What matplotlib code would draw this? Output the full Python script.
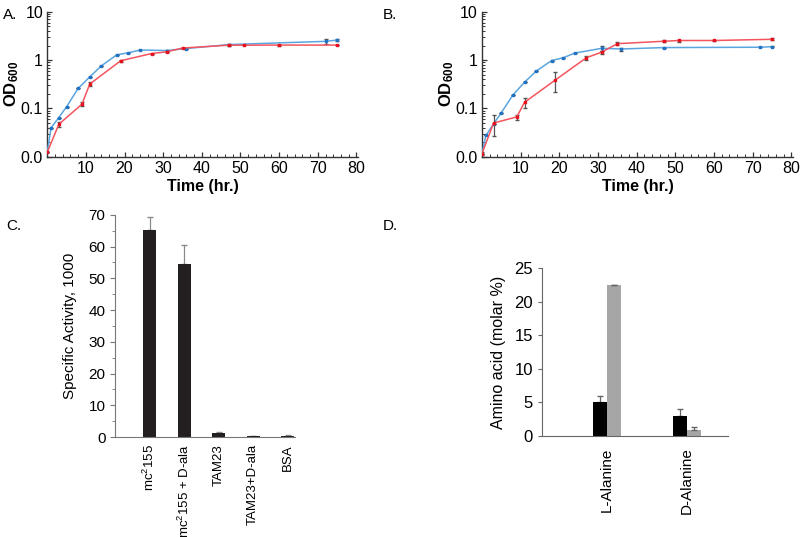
import matplotlib
matplotlib.use("Agg")
import matplotlib.pyplot as plt
from matplotlib.ticker import FixedLocator, FixedFormatter, MultipleLocator, LogLocator, NullFormatter

plt.rcParams['font.family'] = ['Liberation Sans', 'DejaVu Sans']
plt.rcParams['mathtext.fontset'] = 'custom'
plt.rcParams['mathtext.rm'] = 'Liberation Sans'
plt.rcParams['mathtext.bf'] = 'Liberation Sans:bold'
plt.rcParams['mathtext.it'] = 'Liberation Sans:italic'

# ---- Panel A data ----
a_blue_t = [0, 1, 3, 5, 8, 11, 14, 18, 21, 24, 31, 36, 47, 72, 75]
a_blue_y = [0.0123, 0.04, 0.065, 0.108, 0.26, 0.45, 0.76, 1.29, 1.42, 1.62, 1.58, 1.74, 2.1, 2.45, 2.6]
a_blue_e = [0, 0, 0, 0, 0, 0, 0, 0, 0, 0, 0.08, 0, 0, 0.25, 0.15]
a_red_t = [0, 3, 9, 11, 19, 27, 31, 35, 47, 51, 60, 75]
a_red_y = [0.0123, 0.047, 0.123, 0.32, 0.97, 1.37, 1.49, 1.78, 2.04, 2.04, 2.05, 2.05]
a_red_e = [0, 0.005, 0.012, 0.03, 0.06, 0, 0.05, 0, 0.08, 0, 0.05, 0]

# ---- Panel B data ----
b_blue_t = [0, 1, 3, 5, 8, 11, 14, 18, 21, 24, 31, 36, 47, 72, 75]
b_blue_y = [0.0117, 0.0276, 0.048, 0.082, 0.19, 0.35, 0.59, 0.98, 1.12, 1.4, 1.76, 1.7, 1.82, 1.85, 1.9]
b_blue_e = [0, 0, 0, 0, 0, 0, 0, 0, 0, 0, 0.2, 0.12, 0, 0, 0.05]
b_red_t = [0, 3, 9, 11, 19, 27, 31, 35, 47, 51, 60, 75]
b_red_y = [0.0117, 0.05, 0.067, 0.134, 0.39, 1.12, 1.47, 2.19, 2.46, 2.55, 2.55, 2.7]
b_red_e = [0.001, 0.023, 0.008, 0.03, 0.17, 0.12, 0.1, 0.15, 0.1, 0.12, 0.05, 0.12]

# ---- Panel C data ----
c_labels = ['mc$^2$155', 'mc$^2$155 + D-ala', 'TAM23', 'TAM23+D-ala', 'BSA']
c_values = [65.2, 54.6, 1.3, 0.4, 0.5]
c_errors = [4.1, 5.8, 0.3, 0.1, 0.1]

# ---- Panel D data ----
d_labels = ['L-Alanine', 'D-Alanine']
d_black = [5.0, 3.0]
d_black_err = [1.0, 1.0]
d_gray = [22.4, 0.9]
d_gray_err = [0.1, 0.5]

log_ticks = [0.01, 0.1, 1, 10]
log_tick_labels = ['0.0', '0.1', '1', '10']
time_ticks = [10, 20, 30, 40, 50, 60, 70, 80]

BLUE_LINE = '#5aa5e0'
BLUE_MK = '#1f72c4'
RED_LINE = '#f4545e'
RED_MK = '#e8101c'
ERR = '#555555'

fig = plt.figure(figsize=(8.0, 5.37), dpi=100)


def growth(ax, bt, by, be, rt, ry, re):
    ax.errorbar(bt, by, yerr=be, color=BLUE_LINE, lw=1.1, marker='s', ms=2.0,
                mfc=BLUE_MK, mec=BLUE_MK, ecolor=ERR, elinewidth=0.9, capsize=1.6, zorder=3)
    ax.errorbar(rt, ry, yerr=re, color=RED_LINE, lw=1.1, marker='s', ms=2.0,
                mfc=RED_MK, mec=RED_MK, ecolor=ERR, elinewidth=0.9, capsize=1.6, zorder=4)
    ax.set_yscale('log')
    ax.set_ylim(0.01, 10)
    ax.set_xlim(0, 80.5)
    ax.yaxis.set_major_locator(FixedLocator(log_ticks))
    ax.yaxis.set_major_formatter(FixedFormatter(log_tick_labels))
    ax.yaxis.set_minor_locator(LogLocator(base=10, subs=range(2, 10)))
    ax.yaxis.set_minor_formatter(NullFormatter())
    ax.xaxis.set_major_locator(FixedLocator(time_ticks))
    ax.xaxis.set_minor_locator(MultipleLocator(2))
    for s in ['top', 'right']:
        ax.spines[s].set_visible(False)
    for s in ['left', 'bottom']:
        ax.spines[s].set_color('#333333')
        ax.spines[s].set_linewidth(1.0)
    ax.tick_params(which='both', direction='in', color='#333333', labelsize=11.5, pad=3)
    ax.tick_params(which='major', length=3.5, width=0.9)
    ax.tick_params(which='minor', length=2, width=0.7)
    ax.set_xlabel('Time (hr.)', fontsize=11.5, fontweight='bold', labelpad=2)
    ax.set_ylabel(r'$\mathbf{OD_{600}}$', fontsize=12)
    ax.yaxis.set_label_coords(-0.085, 0.5)


axA = fig.add_axes([0.059, 0.708, 0.389, 0.27])
growth(axA, a_blue_t, a_blue_y, a_blue_e, a_red_t, a_red_y, a_red_e)
axB = fig.add_axes([0.6025, 0.708, 0.389, 0.27])
growth(axB, b_blue_t, b_blue_y, b_blue_e, b_red_t, b_red_y, b_red_e)

# ---- Panel C ----
axC = fig.add_axes([0.144, 0.186, 0.225, 0.414])
xc = list(range(1, len(c_values) + 1))
axC.bar(xc, c_values, width=0.38, color='#231f20', zorder=2)
axC.errorbar(xc, c_values, yerr=[[0] * len(c_errors), c_errors], fmt='none',
             ecolor='#8a8a8a', elinewidth=0.9, capsize=2.2, zorder=1)
axC.set_xlim(0, 5.22)
axC.set_ylim(0, 70)
axC.yaxis.set_major_locator(MultipleLocator(10))
axC.yaxis.set_minor_locator(MultipleLocator(5))
axC.set_xticks(xc)
axC.set_xticklabels(c_labels, rotation=90, va='top', ha='center')
for s in ['top', 'right']:
    axC.spines[s].set_visible(False)
for s in ['left', 'bottom']:
    axC.spines[s].set_color('#777777')
axC.tick_params(axis='x', length=0, labelsize=9.5, pad=5)
axC.tick_params(axis='y', which='both', direction='out', color='#777777', labelsize=11)
axC.tick_params(axis='y', which='major', length=3.5)
axC.tick_params(axis='y', which='minor', length=2)
axC.set_ylabel('Specific Activity, 1000', fontsize=11, labelpad=8)

# ---- Panel D ----
axD = fig.add_axes([0.6775, 0.188, 0.2325, 0.313])
xd = list(range(1, len(d_labels) + 1))
bw = 0.175
xd_b = [x - bw / 2 for x in xd]
xd_g = [x + bw / 2 for x in xd]
axD.bar(xd_b, d_black, width=bw, color='#000000', zorder=2)
axD.bar(xd_g, d_gray, width=bw, color='#a6a6a6', zorder=2)
axD.errorbar(xd_b, d_black, yerr=[[0, 0], d_black_err], fmt='none',
             ecolor='#666666', elinewidth=0.9, capsize=2, zorder=1)
axD.errorbar(xd_g, d_gray, yerr=[[0, 0], d_gray_err], fmt='none',
             ecolor='#666666', elinewidth=0.9, capsize=2, zorder=3)
axD.set_xlim(0.19, 2.51)
axD.set_ylim(0, 25)
axD.yaxis.set_major_locator(MultipleLocator(5))
axD.set_xticks(xd)
axD.set_xticklabels(d_labels, rotation=90, va='top', ha='center')
for s in ['top', 'right']:
    axD.spines[s].set_visible(False)
for s in ['left', 'bottom']:
    axD.spines[s].set_color('#666666')
axD.tick_params(axis='x', length=0, labelsize=11, pad=8)
axD.tick_params(axis='y', direction='out', length=3, color='#666666', labelsize=12)
axD.set_ylabel('Amino acid (molar %)', fontsize=11.5, labelpad=6)

# panel letters
fig.text(0.004, 0.985, 'A.', fontsize=11, va='top', ha='left')
fig.text(0.478, 0.985, 'B.', fontsize=11, va='top', ha='left')
fig.text(0.008, 0.593, 'C.', fontsize=11, va='top', ha='left')
fig.text(0.478, 0.593, 'D.', fontsize=11, va='top', ha='left')

fig.savefig('out.png', dpi=100)
